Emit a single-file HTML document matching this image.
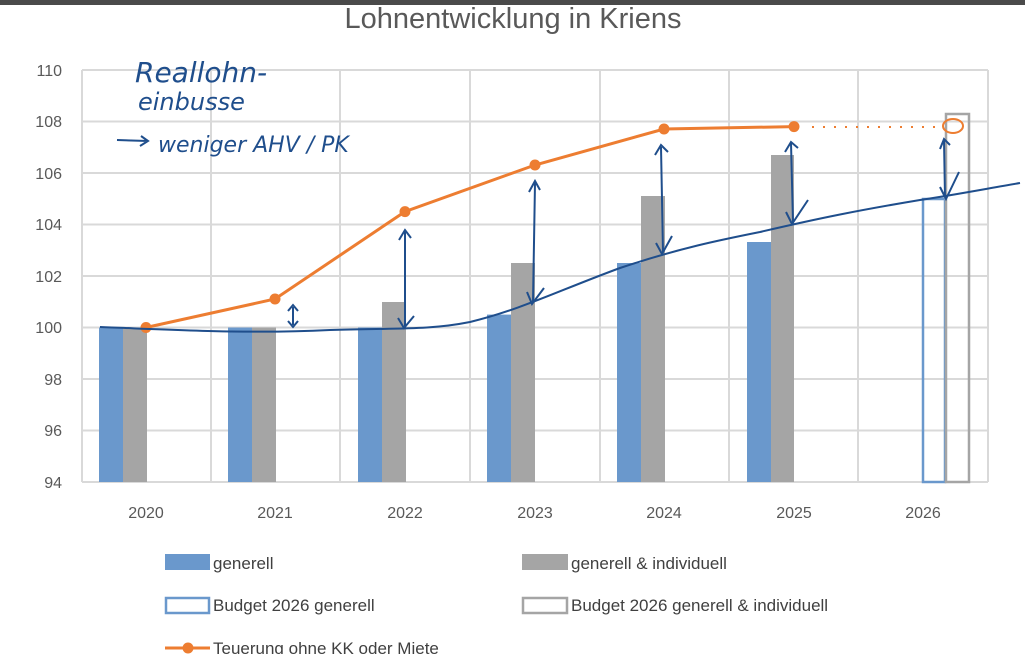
<!DOCTYPE html>
<html><head><meta charset="utf-8"><style>
html,body{margin:0;padding:0;background:#fff;}
svg{display:block;font-family:"Liberation Sans",sans-serif;}
</style></head><body>
<svg width="1025" height="654" viewBox="0 0 1025 654">
<rect x="0" y="0" width="1025" height="5" fill="#4a4a4a"/>
<text x="513" y="28" font-size="29" fill="#595959" text-anchor="middle">Lohnentwicklung in Kriens</text>
<g stroke="#d9d9d9" stroke-width="2">
<line x1="82" y1="70" x2="988" y2="70"/><line x1="82" y1="121.5" x2="988" y2="121.5"/>
<line x1="82" y1="173" x2="988" y2="173"/><line x1="82" y1="224.5" x2="988" y2="224.5"/>
<line x1="82" y1="276" x2="988" y2="276"/><line x1="82" y1="327.5" x2="988" y2="327.5"/>
<line x1="82" y1="379" x2="988" y2="379"/><line x1="82" y1="430.5" x2="988" y2="430.5"/>
<line x1="82" y1="482" x2="988" y2="482"/>
<line x1="82" y1="70" x2="82" y2="482"/><line x1="211" y1="70" x2="211" y2="482"/>
<line x1="340" y1="70" x2="340" y2="482"/><line x1="470" y1="70" x2="470" y2="482"/>
<line x1="600" y1="70" x2="600" y2="482"/><line x1="729" y1="70" x2="729" y2="482"/>
<line x1="858" y1="70" x2="858" y2="482"/><line x1="988" y1="70" x2="988" y2="482"/>
</g>
<g font-size="16" fill="#595959" text-anchor="end">
<text x="62" y="76">110</text><text x="62" y="127">108</text><text x="62" y="179">106</text>
<text x="62" y="230">104</text><text x="62" y="282">102</text><text x="62" y="333">100</text>
<text x="62" y="385">98</text><text x="62" y="436">96</text><text x="62" y="488">94</text>
</g>
<g font-size="16" fill="#595959" text-anchor="middle">
<text x="146" y="518">2020</text><text x="275" y="518">2021</text><text x="405" y="518">2022</text>
<text x="535" y="518">2023</text><text x="664" y="518">2024</text><text x="794" y="518">2025</text><text x="923" y="518">2026</text>
</g>
<g fill="#6a98cc">
<rect x="99" y="327.5" width="24" height="154.5"/>
<rect x="228" y="327.5" width="24" height="154.5"/>
<rect x="358" y="327.5" width="24" height="154.5"/>
<rect x="487" y="314.6" width="24" height="167.4"/>
<rect x="617" y="263" width="24" height="219"/>
<rect x="747" y="242" width="24" height="240"/>
</g>
<g fill="#a5a5a5">
<rect x="123" y="327.5" width="24" height="154.5"/>
<rect x="252" y="327.5" width="24" height="154.5"/>
<rect x="382" y="302" width="24" height="180"/>
<rect x="511" y="263" width="24" height="219"/>
<rect x="641" y="196" width="24" height="286"/>
<rect x="771" y="155" width="23" height="327"/>
</g>
<rect x="923" y="199" width="22" height="283" fill="none" stroke="#6a98cc" stroke-width="2.5"/>
<rect x="946" y="114" width="23" height="368" fill="none" stroke="#a5a5a5" stroke-width="2.5"/>
<polyline points="146,327.5 275,299 405,211.6 535,165 664,129 794,126.6" fill="none" stroke="#ed7d31" stroke-width="3"/>
<g fill="#ed7d31">
<circle cx="146" cy="327.5" r="5.5"/><circle cx="275" cy="299" r="5.5"/><circle cx="405" cy="211.6" r="5.5"/>
<circle cx="535" cy="165" r="5.5"/><circle cx="664" cy="129" r="5.5"/><circle cx="794" cy="126.6" r="5.5"/>
</g>
<line x1="812" y1="127" x2="940" y2="127" stroke="#ed7d31" stroke-width="2" stroke-dasharray="2,9"/>
<ellipse cx="953" cy="126" rx="10" ry="7" fill="none" stroke="#ed7d31" stroke-width="2"/>
<g fill="none" stroke="#1f4e8c" stroke-width="2">
<path d="M100,327 C180,330 250,334 330,330 C400,328 430,330 470,322 C520,310 560,290 620,268 C680,248 720,240 760,232 C820,218 860,210 920,200 C960,194 990,188 1020,183"/>
<path d="M293,307 L293,325 M288,311 L293,305 L298,311 M288,321 L293,327 L298,321"/>
<path d="M405,232 L405,326 M399,240 L405,230 L411,238 M398,318 L404,328 L414,316"/>
<path d="M535,183 L533,302 M529,192 L535,181 L540,190 M527,292 L532,304 L544,288"/>
<path d="M661,147 L663,252 M655,155 L661,145 L668,152 M656,243 L662,254 L672,236"/>
<path d="M791,143 L793,222 M785,152 L791,142 L798,148 M786,212 L792,224 L808,200"/>
<path d="M944,140 L945,197 M940,149 L944,139 L950,145 M940,187 L946,199 L959,172"/>
<path d="M117,140 L148,141 M141,136 L148,141 L140,146"/>
</g>
<g fill="#1f4e8c" font-family="'DejaVu Sans',sans-serif" font-style="italic">
<text x="135" y="82" font-size="28">Reallohn-</text>
<text x="138" y="110" font-size="24">einbusse</text>
<text x="158" y="152" font-size="22">weniger AHV / PK</text>
</g>
<g font-size="17" fill="#404040">
<rect x="165" y="554" width="45" height="16" fill="#6a98cc"/><text x="213" y="569">generell</text>
<rect x="522" y="554" width="46" height="16" fill="#a5a5a5"/><text x="571" y="569">generell &amp; individuell</text>
<rect x="166" y="598" width="43" height="15" fill="none" stroke="#6a98cc" stroke-width="2.5"/><text x="213" y="611">Budget 2026 generell</text>
<rect x="523" y="598" width="44" height="15" fill="none" stroke="#a5a5a5" stroke-width="2.5"/><text x="571" y="611">Budget 2026 generell &amp; individuell</text>
<line x1="165" y1="648" x2="210" y2="648" stroke="#ed7d31" stroke-width="3"/><circle cx="188" cy="648" r="5.5" fill="#ed7d31"/>
<text x="213" y="654">Teuerung ohne KK oder Miete</text>
</g>
</svg>
</body></html>
